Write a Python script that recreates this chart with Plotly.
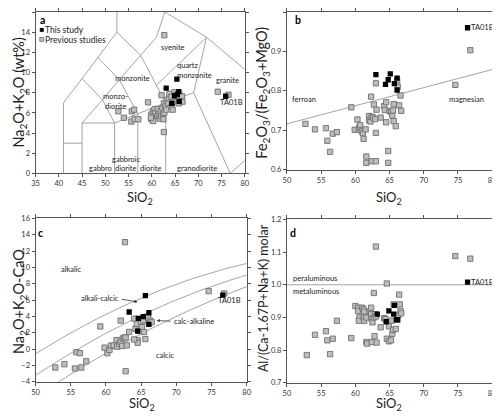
import plotly.graph_objects as go

# ---------------- data ----------------
# Panel a: TAS (Na2O+K2O vs SiO2)
a_prev_x = [62.7, 74.2, 76.5, 59.2, 52.8, 54.0, 55.7, 56.2, 55.6, 56.3, 57.1, 62.6, 62.1,
            59.9, 60.3, 60.3, 60.6, 60.8, 61.2, 61.3, 61.5, 61.7, 61.9, 62.0, 62.3, 62.4,
            62.5, 62.7, 62.6, 62.9, 63.1, 63.2, 63.5, 63.7, 63.8, 64.2, 64.3, 64.5, 64.7,
            64.9, 65.0, 65.4, 65.6, 65.8, 65.9, 66.3, 66.5, 66.6, 59.9, 60.3, 59.8]
a_prev_y = [13.7, 8.1, 7.8, 7.05, 6.16, 5.52, 6.16, 6.32, 5.14, 5.37, 5.37, 4.1, 7.75,
            5.84, 5.52, 6.16, 6.38, 6.0, 5.68, 6.38, 5.84, 5.43, 6.16, 5.68, 6.48, 5.84,
            5.37, 6.0, 6.95, 6.63, 6.32, 7.27, 6.95, 7.43, 7.9, 7.59, 6.63, 6.32, 7.11,
            8.06, 7.43, 7.27, 7.59, 6.95, 7.9, 7.33, 7.65, 7.11, 5.37, 5.2, 5.52]
a_this_x = [65.4, 63.1, 65.8, 64.9, 65.5, 64.3, 65.9, 75.9]
a_this_y = [9.35, 8.45, 8.1, 7.7, 7.85, 6.95, 7.15, 7.65]

# Panel b: Fe-number
b_prev_x = [76.8, 74.6, 52.7, 54.1, 55.7, 55.9, 56.3, 56.7, 57.3, 59.4, 59.9, 60.3, 60.5,
            60.6, 60.7, 60.9, 61.1, 61.2, 61.5, 61.6, 61.6, 62.0, 62.0, 62.2, 62.3, 62.4,
            62.6, 62.7, 62.9, 63.0, 63.0, 63.1, 62.4, 63.0, 64.8, 64.8, 63.7, 64.2, 64.3,
            64.5, 64.5, 65.0, 65.2, 65.4, 65.5, 65.6, 65.6, 65.9, 66.1, 66.2, 66.4, 66.6, 66.7]
b_prev_y = [0.903, 0.815, 0.716, 0.702, 0.705, 0.673, 0.645, 0.691, 0.695, 0.758, 0.701, 0.727, 0.702,
            0.708, 0.713, 0.697, 0.692, 0.678, 0.702, 0.633, 0.617, 0.736, 0.725, 0.722, 0.785, 0.734,
            0.732, 0.765, 0.728, 0.819, 0.693, 0.752, 0.621, 0.621, 0.647, 0.617, 0.732, 0.761, 0.751,
            0.771, 0.720, 0.749, 0.746, 0.737, 0.750, 0.766, 0.723, 0.710, 0.826, 0.810, 0.763, 0.788, 0.749]
b_this_x = [63.0, 64.4, 64.8, 65.1, 65.7, 66.1, 66.1, 76.4]
b_this_y = [0.841, 0.816, 0.828, 0.843, 0.818, 0.832, 0.802, 0.960]

# Panel c: MALI
c_prev_x = [62.7, 59.2, 74.6, 76.8, 52.8, 54.1, 55.8, 56.3, 55.6, 56.5, 57.2, 59.8, 60.2,
            60.5, 60.7, 61.1, 61.5, 61.6, 61.9, 62.1, 62.3, 62.4, 62.6, 62.8, 62.97, 62.8,
            63.3, 62.1, 64.0, 64.2, 64.4, 64.5, 64.5, 64.7, 65.0, 65.1, 65.3, 65.4, 65.6,
            66.0, 66.1, 66.3, 66.5, 64.0]
c_prev_y = [13.1, 2.78, 7.1, 6.82, -2.24, -1.84, -0.37, -0.49, -2.36, -2.24, -1.48, 0.19, -0.49,
            -0.09, 0.43, 0.47, 1.11, 0.31, 0.63, 0.91, 0.39, 1.31, 1.43, 1.43, 0.47, -2.7,
            2.11, 3.5, 3.74, 2.5, 3.1, 1.11, 0.79, 2.23, 3.3, 2.7, 3.5, 2.1, 1.23,
            3.9, 3.2, 3.5, 3.3, 1.19]
c_this_x = [63.3, 65.6, 64.6, 65.3, 66.1, 66.1, 64.5, 76.6]
c_this_y = [4.55, 6.55, 3.78, 3.98, 4.46, 3.03, 2.2, 6.62]

# Panel d: ASI
d_prev_x = [63.0, 74.6, 76.8, 64.6, 62.7, 52.9, 54.1, 55.7, 55.9, 56.3, 56.7, 57.3, 59.4,
            60.0, 60.4, 60.4, 60.6, 60.5, 61.0, 61.2, 61.3, 61.2, 61.3, 61.6, 61.6, 61.7,
            62.1, 62.3, 62.3, 62.4, 62.5, 62.4, 62.7, 62.8, 62.9, 63.0, 63.1, 63.7, 64.2,
            64.4, 64.6, 64.9, 64.9, 65.2, 65.3, 65.4, 65.5, 65.6, 65.9, 66.3, 66.4, 66.5,
            66.6, 66.7]
d_prev_y = [1.117, 1.088, 1.080, 1.004, 0.975, 0.785, 0.847, 0.858, 0.830, 0.788, 0.835, 0.890, 0.837,
            0.935, 0.930, 0.920, 0.900, 0.890, 0.930, 0.925, 0.918, 0.900, 0.890, 0.900, 0.825, 0.820,
            0.918, 0.930, 0.910, 0.895, 0.885, 0.825, 0.900, 0.843, 0.910, 0.903, 0.823, 0.870, 0.898,
            0.895, 0.835, 0.873, 0.827, 0.830, 0.890, 0.850, 0.862, 0.940, 0.865, 0.908, 0.970, 0.940,
            0.920, 0.913]
d_this_x = [63.2, 64.9, 64.5, 65.6, 65.7, 66.2, 66.0, 76.4]
d_this_y = [0.910, 0.920, 0.887, 0.910, 0.937, 0.893, 0.893, 1.008]

# TAS (Middlemost 1994, plutonic) boundary polylines
tas_lines = [
    [(41, 0), (41, 7), (45, 9.4), (48.4, 11.5), (52.5, 14), (52.5, 16)],
    [(41, 3), (45, 3)],
    [(45, 0), (45, 5), (52, 5), (52, 0)],
    [(45, 5), (49.4, 7.3), (52, 5)],
    [(45, 9.4), (49.4, 7.3), (53, 9.3), (57, 5.9)],
    [(48.4, 11.5), (53, 9.3), (57.6, 11.7), (63, 7)],
    [(52, 5), (57, 5.9), (63, 7), (69, 8)],
    [(57, 0), (57, 5.9)],
    [(63, 0), (63, 7)],
    [(52.5, 14), (57.6, 11.7), (61, 13.5), (62.8, 16)],
    [(61, 8.74), (71.8, 13.5)],
    [(62.8, 16), (71.8, 13.5), (80, 10.3)],
    [(69, 8), (71.8, 13.5)],
    [(69, 8), (76.9, 0), (80, 1.3)],
]
# Frost et al. (2001) MALI boundaries: y = c0 + c1*x + c2*x^2
mali_coeffs = [(-41.86, 1.112, -0.00572), (-44.72, 1.094, -0.00527), (-45.36, 1.0043, -0.00427)]
# Fe-number boundary: y = 0.486 + 0.0046*x
feno_coeffs = (0.486, 0.0046)

# ---------------- figure ----------------
FONT = "Lato"
GRAY_LINE = "#9a9a9a"
TXT = "#222222"
W, H = 500, 418
OFF = 8  # page body margin of the browser


def PX(px):
    return (px - OFF) / W


def PY(py):
    return min(1.0, 1 - (py - OFF) / H)


fig = go.Figure()


def prev(x, y, xa, ya):
    fig.add_trace(go.Scatter(x=x, y=y, mode="markers", xaxis=xa, yaxis=ya, showlegend=False,
                             marker=dict(symbol="square", size=5.3, color="#bdbdbd",
                                         line=dict(color="#6f6f6f", width=0.9))))


def this(x, y, xa, ya):
    fig.add_trace(go.Scatter(x=x, y=y, mode="markers", xaxis=xa, yaxis=ya, showlegend=False,
                             marker=dict(symbol="square", size=5.3, color="black",
                                         line=dict(color="black", width=0))))


def line(x, y, xa, ya):
    fig.add_trace(go.Scatter(x=x, y=y, mode="lines", xaxis=xa, yaxis=ya, showlegend=False,
                             hoverinfo="skip", line=dict(color=GRAY_LINE, width=0.9)))


for seg in tas_lines:
    line([p[0] for p in seg], [p[1] for p in seg], "x", "y")
prev(a_prev_x, a_prev_y, "x", "y")
this(a_this_x, a_this_y, "x", "y")

bx = [50, 80]
line(bx, [feno_coeffs[0] + feno_coeffs[1] * v for v in bx], "x2", "y2")
prev(b_prev_x, b_prev_y, "x2", "y2")
this(b_this_x, b_this_y, "x2", "y2")

xs = [50 + i * 0.25 for i in range(121)]
for c0, c1, c2 in mali_coeffs:
    line(xs, [c0 + c1 * v + c2 * v * v for v in xs], "x3", "y3")
prev(c_prev_x, c_prev_y, "x3", "y3")
this(c_this_x, c_this_y, "x3", "y3")

line([50, 80], [1.0, 1.0], "x4", "y4")
prev(d_prev_x, d_prev_y, "x4", "y4")
this(d_this_x, d_this_y, "x4", "y4")

axis_common = dict(showline=True, linecolor="#555555", linewidth=1, mirror="ticks",
                   ticks="outside", ticklen=3, tickcolor="#555555", tickwidth=1,
                   showgrid=False, zeroline=False,
                   tickfont=dict(family=FONT, size=7.5, color="#333333"))

fig.update_layout(
    width=W, height=H, margin=dict(l=0, r=0, t=0, b=0),
    paper_bgcolor="white", plot_bgcolor="white", showlegend=False,
    font=dict(family=FONT, color=TXT),
    xaxis=dict(domain=[PX(32), PX(245)], range=[35, 80], tickvals=list(range(35, 81, 5)),
               anchor="y", **axis_common),
    yaxis=dict(domain=[PY(173), PY(5)], range=[0, 16], tickvals=list(range(0, 17, 2)),
               anchor="x", **axis_common),
    xaxis2=dict(domain=[PX(288), PX(497)], range=[50, 80], tickvals=list(range(50, 81, 5)),
                anchor="y2", **axis_common),
    yaxis2=dict(domain=[PY(169), PY(6)], range=[0.6, 1.0], tickvals=[0.6, 0.7, 0.8, 0.9, 1.0],
                ticktext=["0.6", "0.7", "0.8", "0.9", "1.0"], anchor="x2", **axis_common),
    xaxis3=dict(domain=[PX(32), PX(247)], range=[50, 80], tickvals=list(range(50, 81, 5)),
                anchor="y3", **axis_common),
    yaxis3=dict(domain=[PY(386), PY(219)], range=[-4, 16], tickvals=list(range(-4, 17, 2)),
                anchor="x3", **axis_common),
    xaxis4=dict(domain=[PX(288), PX(497)], range=[50, 80], tickvals=list(range(50, 81, 5)),
                anchor="y4", **axis_common),
    yaxis4=dict(domain=[PY(387), PY(220)], range=[0.7, 1.2], tickvals=[0.7, 0.8, 0.9, 1.0, 1.1, 1.2],
                ticktext=["0.7", "0.8", "0.9", "1.0", "1.1", "1.2"], anchor="x4", **axis_common),
)

ann = []


def txt(text, x, y, xr, yr, size=7.5, xanchor="center", yanchor="middle", bold=False, color=TXT, angle=0):
    ann.append(dict(text=("<b>%s</b>" % text) if bold else text, x=x, y=y, xref=xr, yref=yr,
                    showarrow=False, xanchor=xanchor, yanchor=yanchor, textangle=angle,
                    borderpad=0, font=dict(family=FONT, size=size, color=color)))


# axis titles (window pixel positions)
for cx, cy in [(138, 188), (392, 188), (140, 398), (392, 398)]:
    txt("SiO<sub>2</sub>", PX(cx), PY(cy), "paper", "paper", size=13, yanchor="top")
txt("Na<sub>2</sub>O+K<sub>2</sub>O (wt%)", PX(15.5), PY(90), "paper", "paper", size=14.5, angle=-90)
txt("Fe<sub>2</sub>O<sub>3</sub>/(Fe<sub>2</sub>O<sub>3</sub>+MgO)", PX(263), PY(90), "paper", "paper",
    size=14.5, angle=-90)
txt("Na<sub>2</sub>O+K<sub>2</sub>O-CaO", PX(15.5), PY(304), "paper", "paper", size=14.5, angle=-90)
txt("Al/(Ca-1.67P+Na+K) molar", PX(264), PY(300), "paper", "paper", size=12.5, angle=-90)

# panel letters (window pixel positions)
txt("a", PX(38.7), PY(16), "paper", "paper", size=10.5, bold=True, color="black")
txt("b", PX(299), PY(16), "paper", "paper", size=10.5, bold=True, color="black")
txt("c", PX(37.5), PY(234), "paper", "paper", size=10.5, bold=True, color="black")
txt("d", PX(294.5), PY(234), "paper", "paper", size=10.5, bold=True, color="black")

# panel a legend (manual)
txt("This study", PX(41), PY(26.5), "paper", "paper", size=8.5, xanchor="left")
txt("Previous studies", PX(41), PY(36.2), "paper", "paper", size=8.5, xanchor="left")
shapes = [
    dict(type="rect", xref="paper", yref="paper", x0=PX(36.3), x1=PX(40.3),
         y0=PY(28.3), y1=PY(24.3), fillcolor="black", line=dict(width=0)),
    dict(type="rect", xref="paper", yref="paper", x0=PX(36.3), x1=PX(40.3),
         y0=PY(38), y1=PY(34), fillcolor="#bdbdbd", line=dict(color="#6f6f6f", width=0.8)),
]

for t, x, y in [("syenite", 64.5, 12.5), ("quartz", 67.7, 10.67), ("monzonite", 69.2, 9.75),
                ("granite", 76.3, 9.24), ("TA01B", 77.1, 7.0), ("monzonite", 55.9, 9.43),
                ("monzo-", 52.2, 7.59), ("diorite", 52.3, 6.64), ("gabbro", 48.9, 0.45),
                ("gabbroic", 54.6, 1.4), ("diorite", 54.4, 0.45), ("diorite", 59.7, 0.45),
                ("granodiorite", 69.8, 0.45)]:
    txt(t, x, y, "x", "y")

txt("ferroan", 52.5, 0.777, "x2", "y2")
txt("magnesian", 76.2, 0.777, "x2", "y2")
txt("TA01B", b_this_x[-1] + 0.35, b_this_y[-1], "x2", "y2", xanchor="left")

txt("alkalic", 55.1, 9.77, "x3", "y3")
txt("alkali-calcic", 59.1, 6.22, "x3", "y3")
txt("calc-alkaline", 72.5, 3.38, "x3", "y3")
txt("calcic", 68.4, -0.77, "x3", "y3")
txt("TA01B", 77.6, 6.0, "x3", "y3")
ann.append(dict(x=64.5, y=5.78, ax=62.0, ay=6.15, xref="x3", yref="y3", axref="x3", ayref="y3",
                text="", showarrow=True, arrowhead=2, arrowsize=0.8, arrowwidth=0.8, arrowcolor="#333333"))
ann.append(dict(x=67.2, y=3.5, ax=69.4, ay=3.42, xref="x3", yref="y3", axref="x3", ayref="y3",
                text="", showarrow=True, arrowhead=2, arrowsize=0.8, arrowwidth=0.8, arrowcolor="#333333"))

txt("peraluminous", 50.7, 1.019, "x4", "y4", xanchor="left")
txt("metaluminous", 50.7, 0.979, "x4", "y4", xanchor="left")
txt("TA01B", d_this_x[-1] + 0.35, d_this_y[-1], "x4", "y4", xanchor="left")

fig.update_layout(annotations=ann, shapes=shapes)
fig.write_html("out.html")
